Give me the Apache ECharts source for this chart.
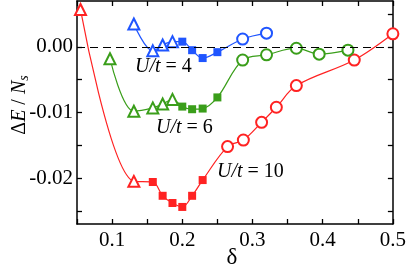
<!DOCTYPE html>
<html>
<head>
<meta charset="utf-8">
<script src="https://cdn.jsdelivr.net/npm/echarts@6/dist/echarts.min.js"></script>
<style>html,body{margin:0;padding:0;background:#fff}#c{width:409px;height:272px}</style>
</head>
<body>
<div id="c"></div>
<script>
// ---- data ----
// U/t = 10 (red)
const red_tri_x = [0.055, 0.131];
const red_tri_y = [0.0057, -0.0205];
const red_sq_x = [0.158, 0.172, 0.186, 0.200, 0.214, 0.229];
const red_sq_y = [-0.0206, -0.0227, -0.0238, -0.0244, -0.0227, -0.0203];
const red_ci_x = [0.2645, 0.287, 0.313, 0.334, 0.3625, 0.445, 0.500];
const red_ci_y = [-0.0152, -0.0142, -0.0115, -0.0092, -0.0059, -0.0020, 0.0020];
// U/t = 6 (green)
const grn_tri_x = [0.097, 0.131, 0.158, 0.172, 0.186];
const grn_tri_y = [-0.0018, -0.0098, -0.0093, -0.0087, -0.0080];
const grn_sq_x = [0.200, 0.214, 0.229, 0.250];
const grn_sq_y = [-0.0091, -0.0095, -0.0094, -0.0077];
const grn_ci_x = [0.286, 0.320, 0.3625, 0.395, 0.436];
const grn_ci_y = [-0.0020, -0.0012, -0.0002, -0.0011, -0.0005];
// U/t = 4 (blue)
const blu_tri_x = [0.131, 0.158, 0.172, 0.186];
const blu_tri_y = [0.0035, -0.0006, 0.0003, 0.0008];
const blu_sq_x = [0.200, 0.214, 0.229, 0.250];
const blu_sq_y = [0.0008, -0.0005, -0.0017, -0.0008];
const blu_ci_x = [0.286, 0.320];
const blu_ci_y = [0.0012, 0.0021];

const xTicks = [0.05,0.1,0.15,0.2,0.25,0.3,0.35,0.4,0.45,0.5];
const xLabels = [0.1,0.2,0.3,0.4,0.5];
const yTicks = [-0.025,-0.02,-0.015,-0.01,-0.005,0,0.005];
const yLabels = [-0.02,-0.01,0];
const seriesNames = ['U/t = 10','U/t = 6','U/t = 4'];
const curveLabels = ['10','6','4'];

// ---- build ----
function pts(xs, ys, kind, color) {
  return xs.map((x, i) => {
    const d = {value: [x, ys[i]]};
    if (kind === 'tri') { d.symbol = 'emptyTriangle'; d.symbolSize = 11; d.itemStyle = {color: color, borderWidth: 1.2}; }
    else if (kind === 'sq') { d.symbol = 'rect'; d.symbolSize = 8; d.itemStyle = {color: color}; }
    else { d.symbol = 'emptyCircle'; d.symbolSize = 11; d.itemStyle = {color: color, borderWidth: 1.2}; }
    return d;
  });
}
function mk(name, color, tx, ty, sx, sy, cx, cy) {
  return {
    name: name, type: 'line', smooth: 0.35,
    xAxisIndex: 0, yAxisIndex: 0,
    lineStyle: {color: color, width: 1.2},
    itemStyle: {color: color},
    showAllSymbol: true,
    z: 3,
    data: [].concat(pts(tx, ty, 'tri', color), pts(sx, sy, 'sq', color), pts(cx, cy, 'ci', color))
  };
}
const RED = '#ff2222', GRN = '#3a9e1a', BLU = '#1f55ff';
const font = 'Liberation Serif';
const TS = 20;
const rich = {
  i: {fontStyle: 'italic', fontFamily: font, fontSize: TS, fill: '#000'},
  n: {fontStyle: 'normal', fontFamily: font, fontSize: TS, fill: '#000'},
  s: {fontStyle: 'italic', fontFamily: font, fontSize: 14, fill: '#000', padding: [9, 0, 0, 0]}
};
function lab(v, left, top) {
  return {type: 'text', left: left, top: top, style: {text: '{i|U/t}{n| = ' + v + '}', rich: rich, fontFamily: font, fontSize: TS, fill: '#000'}};
}

const chart = echarts.init(document.getElementById('c'), null, {renderer: 'canvas'});
const axisCommon = {
  axisLine: {show: true, onZero: false, lineStyle: {color: '#000', width: 1.5}},
  splitLine: {show: false}
};
chart.setOption({
  backgroundColor: '#fff',
  animation: false,
  grid: {left: 77, right: 15, top: 1, bottom: 48},
  xAxis: [
    Object.assign({type: 'value', min: 0.05, max: 0.5, position: 'bottom',
      axisTick: {inside: true, length: 5, customValues: xTicks, lineStyle: {color: '#000', width: 1.3}},
      axisLabel: {customValues: xLabels, formatter: v => v.toFixed(1), fontFamily: font, fontSize: 21, color: '#000', margin: 6},
    }, axisCommon),
    Object.assign({type: 'value', min: 0.05, max: 0.5, position: 'top',
      axisTick: {inside: true, length: 5, customValues: xTicks, lineStyle: {color: '#000', width: 1.3}},
      axisLabel: {show: false}
    }, axisCommon)
  ],
  yAxis: [
    Object.assign({type: 'value', min: -0.027, max: 0.007, position: 'left',
      axisTick: {inside: true, length: 5, customValues: yTicks, lineStyle: {color: '#000', width: 1.3}},
      axisLabel: {customValues: yLabels, formatter: v => (Math.abs(v) < 1e-9 ? '0.00' : v.toFixed(2)), fontFamily: font, fontSize: 21, color: '#000', margin: 4},
    }, axisCommon),
    Object.assign({type: 'value', min: -0.027, max: 0.007, position: 'right',
      axisTick: {inside: true, length: 5, customValues: yTicks, lineStyle: {color: '#000', width: 1.3}},
      axisLabel: {show: false}
    }, axisCommon)
  ],
  series: [
    {
      type: 'line', data: [], silent: true,
      markLine: {silent: true, symbol: ['none','none'], label: {show: false},
        lineStyle: {color: '#000', type: [8, 5], width: 1.2},
        data: [{yAxis: 0}]},
      z: 1
    },
    mk(seriesNames[0], RED, red_tri_x, red_tri_y, red_sq_x, red_sq_y, red_ci_x, red_ci_y),
    mk(seriesNames[1], GRN, grn_tri_x, grn_tri_y, grn_sq_x, grn_sq_y, grn_ci_x, grn_ci_y),
    mk(seriesNames[2], BLU, blu_tri_x, blu_tri_y, blu_sq_x, blu_sq_y, blu_ci_x, blu_ci_y)
  ],
  graphic: [
    lab(curveLabels[2], 135, 57),
    lab(curveLabels[1], 156, 118),
    lab(curveLabels[0], 217, 162),
    {type: 'text', x: 232, y: 258, style: {text: '{n|δ}', rich: {n: {fontFamily: font, fontSize: 23, fill: '#000'}}, align: 'center', verticalAlign: 'middle'}},
    {type: 'text', x: 20, y: 105, rotation: Math.PI / 2,
      style: {text: '{n|Δ}{i|E}{n| / }{i|N}{s|s}', align: 'center', verticalAlign: 'middle', rich: rich}}
  ]
});
</script>
</body>
</html>
